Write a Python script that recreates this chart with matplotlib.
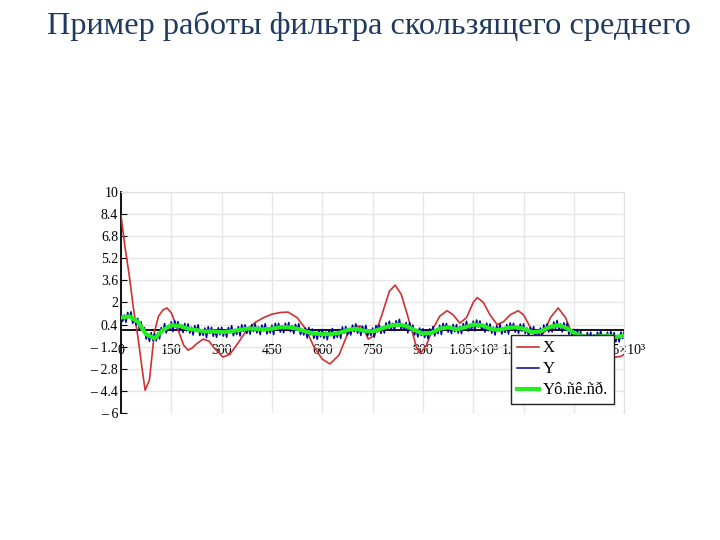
import matplotlib.pyplot as plt
import numpy as np

plt.rcParams['font.family'] = ['Liberation Serif', 'DejaVu Serif']

# X - source signal (red)
x_red = [0, 12, 25, 37, 50, 62, 72, 85, 100, 112, 125, 137, 150, 162, 175, 187, 200,
         212, 225, 245, 262, 280, 304, 325, 350, 375, 400, 425, 450, 475, 498, 525, 550,
         575, 600, 623, 650, 675, 700, 713, 725, 737, 755, 775, 800, 817, 835, 850, 868,
         880, 892, 910, 930, 950, 972, 990, 1010, 1030, 1050, 1062, 1080, 1100, 1121,
         1140, 1160, 1184, 1200, 1220, 1240, 1260, 1280, 1303, 1325, 1350, 1375, 1400,
         1425, 1450, 1475, 1490, 1500]
y_red = [8.3, 6.0, 3.9, 1.6, -0.4, -2.6, -4.35, -3.6, -0.1, 1.0, 1.45, 1.6, 1.25, 0.5,
         -0.3, -1.1, -1.45, -1.3, -1.0, -0.65, -0.8, -1.35, -1.95, -1.75, -0.9, 0.0, 0.55,
         0.9, 1.15, 1.27, 1.3, 0.9, 0.1, -1.2, -2.1, -2.45, -1.8, -0.3, 0.25, 0.3, 0.0,
         -0.65, -0.4, 0.9, 2.8, 3.25, 2.6, 1.4, -0.1, -1.2, -1.7, -1.1, 0.1, 1.0, 1.4, 1.1,
         0.5, 0.9, 2.0, 2.35, 2.0, 1.1, 0.4, 0.6, 1.1, 1.4, 1.1, 0.2, -0.6, -0.2, 0.9, 1.6,
         0.9, -0.6, -1.8, -2.3, -2.3, -2.1, -1.95, -1.9, -1.75]

# Y - noisy signal (blue), every 5 units
x_blue = np.arange(0, 1501, 5)
y_blue = [1.25, 0.62, 1.09, 0.56, 1.28, 0.9, 1.32, 0.49, 0.81, 0.38,
          0.85, -0.03, 0.59, -0.09, 0.18, -0.65, -0.26, -0.82, -0.18, -0.74,
          -0.25, -0.78, -0.21, -0.64, 0.18, -0.1, 0.47, -0.21, 0.26, -0.02,
          0.6, -0.11, 0.68, 0.17, 0.61, -0.05, 0.36, -0.18, 0.48, -0.06,
          0.45, -0.22, 0.21, -0.36, 0.32, -0.1, 0.38, -0.39, -0.01, -0.38,
          0.15, -0.55, 0.25, -0.25, 0.2, -0.45, -0.01, -0.52, 0.17, -0.34,
          0.2, -0.44, 0.02, -0.52, 0.19, -0.2, 0.32, -0.41, 0.01, -0.32,
          0.25, -0.43, 0.39, -0.09, 0.38, -0.25, 0.2, -0.3, 0.4, -0.1,
          0.45, -0.21, 0.23, -0.33, 0.36, -0.05, 0.46, -0.28, 0.13, -0.21,
          0.35, -0.33, 0.49, 0.01, 0.48, -0.15, 0.3, -0.2, 0.5, 0.0,
          0.55, -0.12, 0.31, -0.26, 0.42, 0.0, 0.46, -0.33, 0.03, -0.36,
          0.15, -0.58, 0.19, -0.34, 0.08, -0.6, -0.16, -0.67, 0.02, -0.49,
          0.05, -0.6, -0.15, -0.7, 0.0, -0.4, 0.12, -0.61, -0.19, -0.52,
          0.05, -0.61, 0.23, -0.23, 0.26, -0.35, 0.12, -0.36, 0.36, -0.12,
          0.45, -0.23, 0.19, -0.39, 0.28, -0.15, 0.34, -0.42, -0.03, -0.39,
          0.15, -0.51, 0.33, -0.13, 0.36, -0.25, 0.24, -0.22, 0.52, 0.06,
          0.65, 0.02, 0.49, -0.04, 0.68, 0.3, 0.78, 0.01, 0.39, 0.02,
          0.55, -0.21, 0.53, -0.03, 0.36, -0.35, 0.05, -0.5, 0.15, -0.4,
          0.1, -0.54, -0.08, -0.62, 0.09, -0.3, 0.26, -0.43, 0.03, -0.26,
          0.35, -0.33, 0.49, 0.01, 0.48, -0.15, 0.27, -0.26, 0.41, -0.12,
          0.4, -0.22, 0.26, -0.26, 0.47, 0.1, 0.64, -0.07, 0.37, 0.06,
          0.65, -0.06, 0.73, 0.22, 0.66, 0.0, 0.4, -0.15, 0.5, -0.05,
          0.45, -0.22, 0.21, -0.36, 0.32, -0.1, 0.43, -0.29, 0.14, -0.18,
          0.4, -0.29, 0.52, 0.03, 0.49, -0.15, 0.28, -0.24, 0.44, -0.08,
          0.45, -0.25, 0.15, -0.45, 0.2, -0.25, 0.26, -0.48, -0.07, -0.41,
          0.15, -0.49, 0.37, -0.07, 0.44, -0.15, 0.33, -0.14, 0.59, 0.12,
          0.7, 0.02, 0.44, -0.14, 0.53, 0.1, 0.52, -0.31, 0.01, -0.42,
          0.05, -0.7, 0.05, -0.5, -0.1, -0.8, -0.36, -0.87, -0.18, -0.69,
          -0.15, -0.79, -0.33, -0.87, -0.16, -0.55, -0.04, -0.78, -0.37, -0.71,
          -0.15, -0.87, -0.09, -0.61, -0.18, -0.85, -0.38, -0.86, -0.14, -0.62,
          -0.1]

# Y filtered (green), every 25 units
x_green = np.arange(0, 1501, 25)
y_green = [0.9, 1.0, 0.6, -0.3, -0.6, 0.0, 0.35, 0.3, 0.1, 0.0,
           -0.1, -0.1, -0.15, -0.1, 0.0, 0.1, 0.1, 0.05, 0.1, 0.2,
           0.2, 0.1, -0.1, -0.25, -0.3, -0.3, -0.2, 0.0, 0.1, -0.05,
           -0.1, 0.1, 0.3, 0.4, 0.3, 0.0, -0.25, -0.2, 0.1, 0.2,
           0.05, 0.2, 0.4, 0.35, 0.1, 0.0, 0.15, 0.2, 0.1, -0.15,
           -0.1, 0.2, 0.35, 0.2, -0.2, -0.45, -0.5, -0.45, -0.4, -0.5,
           -0.4]

x_ticks = [0, 150, 300, 450, 600, 750, 900, 1050, 1200, 1350, 1500]
x_labels = ['0', '150', '300', '450', '600', '750', '900',
            '1.05×10³', '1.2×10³', '1.35×10³', '1.5×10³']
y_ticks = [10, 8.4, 6.8, 5.2, 3.6, 2, 0.4, -1.2, -2.8, -4.4, -6]
y_labels = ['10', '8.4', '6.8', '5.2', '3.6', '2', '0.4',
            '– 1.2', '– 2.8', '– 4.4', '– 6']

fig = plt.figure(figsize=(7.2, 5.4), dpi=100)
fig.text(0.5125, 0.951, 'Пример работы фильтра скользящего среднего',
         ha='center', va='center', fontsize=23.3, color='#1f3a5f')

ax = fig.add_axes([0.168, 0.235, 0.699, 0.41])
ax.plot(x_red, y_red, color='#d03030', lw=1.2, label='X', zorder=3)
ax.plot(x_blue, y_blue, color='#0000a0', lw=1.1, label='Y', zorder=4)
ax.plot(x_green, y_green, color='#22ee22', lw=3.0, label='Yô.ñê.ñð.', zorder=5)

ax.set_xlim(0, 1500)
ax.set_ylim(-6, 10)
ax.set_xticks(x_ticks)
ax.set_xticklabels(x_labels, fontsize=10)
ax.get_xticklabels()[0].set_horizontalalignment('left')
ax.set_yticks(y_ticks)
ax.set_yticklabels(y_labels, fontsize=10)
ax.grid(True, color='#e6e6e6', lw=1.0)
ax.set_axisbelow(True)

ax.spines['bottom'].set_position(('data', 0))
ax.spines['bottom'].set_color('black')
ax.spines['bottom'].set_linewidth(1.3)
ax.spines['bottom'].set_zorder(2)
ax.spines['left'].set_color('black')
ax.spines['left'].set_linewidth(1.3)
ax.spines['top'].set_color('#e0e0e0')
ax.spines['right'].set_color('#e0e0e0')
ax.tick_params(axis='y', direction='in', length=4, pad=2)
ax.tick_params(axis='x', direction='in', length=0, pad=10)

leg = ax.legend(loc='lower right', bbox_to_anchor=(0.98, 0.04), fontsize=12,
                frameon=True, fancybox=False, edgecolor='#222222',
                handlelength=1.3, handletextpad=0.25, borderpad=0.35,
                labelspacing=0.3, borderaxespad=0)
leg.get_frame().set_linewidth(1.0)
leg.get_frame().set_alpha(1)

fig.savefig('out.png', dpi=100)
